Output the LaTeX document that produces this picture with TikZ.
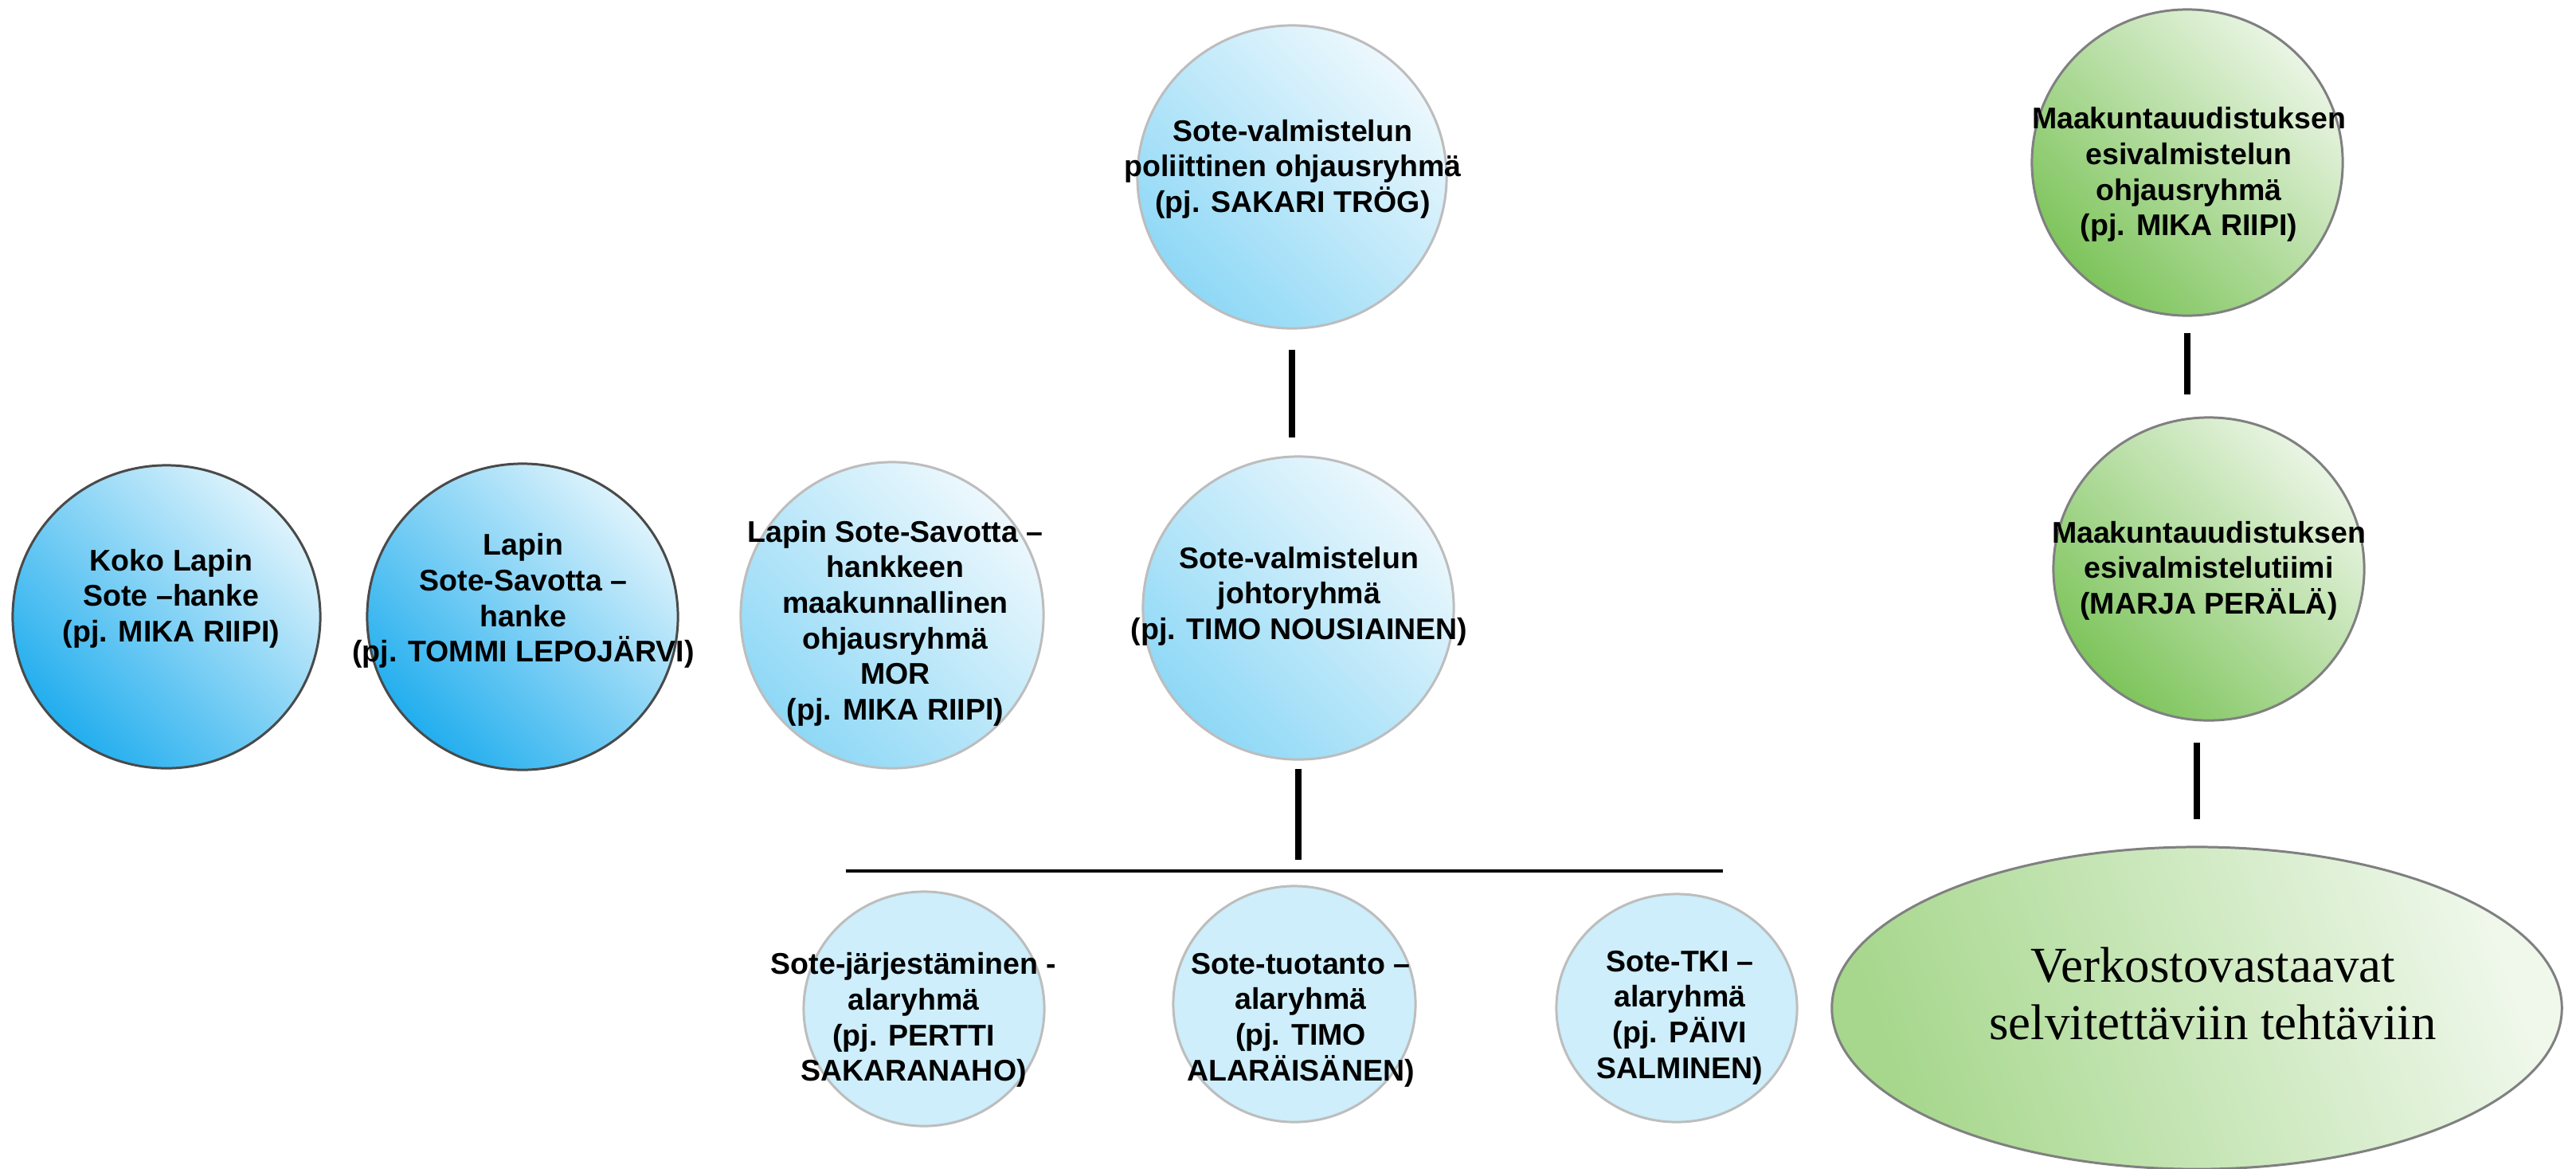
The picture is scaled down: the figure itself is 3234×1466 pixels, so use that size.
\documentclass[tikz,border=0pt]{standalone}
\usepackage{fontspec}
\setmainfont{Liberation Sans}
\newfontfamily\verkfont{Liberation Serif}
\usetikzlibrary{shapes.geometric}
\definecolor{bluedark}{HTML}{22AEEE}
\definecolor{bluelight}{HTML}{DDF3FC}
\definecolor{bluetwodark}{HTML}{8ED8F6}
\definecolor{bluetwolight}{HTML}{EDF8FD}
\definecolor{subfill}{HTML}{CDEEFA}
\definecolor{greendark}{HTML}{7DC45B}
\definecolor{greenlight}{HTML}{EAF5E4}
\definecolor{verkleft}{HTML}{A6D78C}
\definecolor{verkright}{HTML}{F0F8EC}
\definecolor{borderdark}{HTML}{4A4A4A}
\definecolor{borderlight}{HTML}{BDBDBD}
\definecolor{bordergreen}{HTML}{808080}
\begin{document}
\begin{tikzpicture}[x=0.01cm,y=-0.01cm,
  bubble/.style={ellipse, inner sep=0pt, line width=0.85pt},
  darkblue/.style={bubble, draw=borderdark, top color=bluelight, bottom color=bluedark, shading angle=-45},
  lightblue/.style={bubble, draw=borderlight, top color=bluetwolight, bottom color=bluetwodark, shading angle=-45},
  subblue/.style={bubble, draw=borderlight, fill=subfill},
  greenbub/.style={bubble, draw=bordergreen, top color=greenlight, bottom color=greendark, shading angle=-45},
  verkbub/.style={bubble, draw=bordergreen, top color=verkright, bottom color=verkleft, shading angle=-70},
  txt/.style={align=center, inner sep=0pt, font=\bfseries\fontsize{10.67}{12.7}\selectfont},
  verktxt/.style={align=center, inner sep=0pt, font=\verkfont\fontsize{17.9}{20.5}\selectfont},
  bar/.style={line width=2.5pt},
  hbar/.style={line width=0.9pt}]
\useasboundingbox (0,0) rectangle (3234,1466);
\fill[white] (0,0) rectangle (3234,1466);

% bubbles
\node[darkblue, minimum width=3.86cm, minimum height=3.80cm] (koko) at (209,774) {};
\node[darkblue, minimum width=3.90cm, minimum height=3.84cm] (lapin) at (656,774) {};
\node[lightblue, minimum width=3.80cm, minimum height=3.84cm] (mor) at (1120,772) {};
\node[lightblue, minimum width=3.90cm, minimum height=3.80cm] (johto) at (1630,763) {};
\node[lightblue, minimum width=3.88cm, minimum height=3.80cm] (pol) at (1622,222) {};
\node[greenbub, minimum width=3.90cm, minimum height=3.84cm] (g1) at (2746,204) {};
\node[greenbub, minimum width=3.90cm, minimum height=3.80cm] (g2) at (2773,714) {};
\node[verkbub, minimum width=9.16cm, minimum height=4.04cm] (verk) at (2758,1265) {};
\node[subblue, minimum width=3.02cm, minimum height=2.94cm] (s1) at (1160,1266) {};
\node[subblue, minimum width=3.04cm, minimum height=2.96cm] (s2) at (1625,1260) {};
\node[subblue, minimum width=3.02cm, minimum height=2.86cm] (s3) at (2105,1265) {};

% texts
\node[txt] (kokoT) at (215,751) {Koko Lapin\\Sote –hanke\\(pj. MIKA RIIPI)};
\node[txt] (lapinT) at (657,754) {Lapin\\Sote-Savotta –\\hanke\\(pj. TOMMI LEPOJÄRVI)};
\node[txt] (morT) at (1124,782) {Lapin Sote-Savotta –\\hankkeen\\maakunnallinen\\ohjausryhmä\\MOR\\(pj. MIKA RIIPI)};
\node[txt] (johtoT) at (1631,748) {Sote-valmistelun\\johtoryhmä\\(pj. TIMO NOUSIAINEN)};
\node[txt] (polT) at (1623,212) {Sote-valmistelun\\poliittinen ohjausryhmä\\(pj. SAKARI TRÖG)};
\node[txt] (g1T) at (2748,219) {Maakuntauudistuksen\\esivalmistelun\\ohjausryhmä\\(pj. MIKA RIIPI)};
\node[txt] (g2T) at (2773,716) {Maakuntauudistuksen\\esivalmistelutiimi\\(MARJA PERÄLÄ)};
\node[txt] (s1T) at (1147,1280) {Sote-järjestäminen -\\alaryhmä\\(pj. PERTTI\\SAKARANAHO)};
\node[txt] (s2T) at (1633,1280) {Sote-tuotanto –\\alaryhmä\\(pj. TIMO\\ALARÄISÄNEN)};
\node[txt] (s3T) at (2109,1277) {Sote-TKI –\\alaryhmä\\(pj. PÄIVI\\SALMINEN)};
\node[verktxt] (verkT) at (2778,1247) {Verkostovastaavat\\selvitettäviin tehtäviin};

% connectors
\coordinate (hl) at (1062,1093);
\coordinate (hr) at (2163,1093);
\draw[hbar] (hl) -- (hr);
\draw[bar, shorten <=0.25cm, shorten >=0.22cm] (pol.south) -- (pol.south |- johto.north);
\draw[bar, shorten <=0.10cm, shorten >=0.14cm] (johto.south) -- (johto.south |- hl);
\draw[bar, shorten <=0.20cm, shorten >=0.27cm] (g1.south) -- (g1.south |- g2.north);
\draw[bar, shorten <=0.26cm, shorten >=0.33cm] (verk.north |- g2.south) -- (verk.north);
\end{tikzpicture}
\end{document}
